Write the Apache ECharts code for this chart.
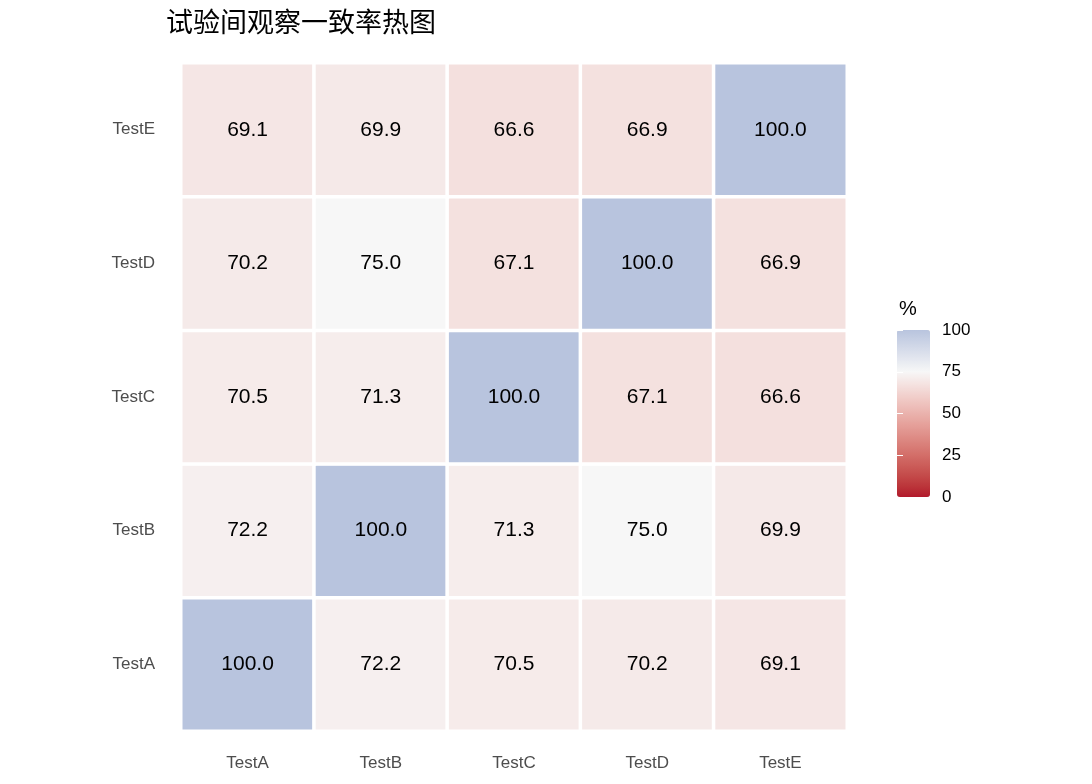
<!DOCTYPE html>
<html>
<head>
<meta charset="utf-8">
<script src="https://cdn.jsdelivr.net/npm/echarts@6/dist/echarts.min.js"></script>
<style>
html,body{margin:0;padding:0;background:#fff;}
#chart{width:1092px;height:784px;}
</style>
</head>
<body>
<div id="chart"></div>
<script>
// ---- data ----
var tests = ['TestA', 'TestB', 'TestC', 'TestD', 'TestE'];
var rowTestA = [100.0, 72.2, 70.5, 70.2, 69.1];
var rowTestB = [72.2, 100.0, 71.3, 75.0, 69.9];
var rowTestC = [70.5, 71.3, 100.0, 67.1, 66.6];
var rowTestD = [70.2, 75.0, 67.1, 100.0, 66.9];
var rowTestE = [69.1, 69.9, 66.6, 66.9, 100.0];
var legendTicks = [0, 25, 50, 75, 100];
var titleText = '试验间观察一致率热图';

var rows = [rowTestA, rowTestB, rowTestC, rowTestD, rowTestE];
var heatData = [];
rows.forEach(function (row, yi) {
  row.forEach(function (v, xi) { heatData.push([xi, yi, v]); });
});

// ---- diverging colour scale (Lab interpolation, midpoint 75) ----
function hexToRgb(h){h=h.replace('#','');return [parseInt(h.substr(0,2),16),parseInt(h.substr(2,2),16),parseInt(h.substr(4,2),16)];}
function srgbToLin(c){c/=255;return c<=0.04045?c/12.92:Math.pow((c+0.055)/1.055,2.4);}
function linToSrgb(c){c=c<=0.0031308?12.92*c:1.055*Math.pow(c,1/2.4)-0.055;return Math.max(0,Math.min(255,Math.round(c*255)));}
function rgbToLab(rgb){
  var r=srgbToLin(rgb[0]),g=srgbToLin(rgb[1]),b=srgbToLin(rgb[2]);
  var x=(r*0.4124+g*0.3576+b*0.1805)/0.95047,y=(r*0.2126+g*0.7152+b*0.0722),z=(r*0.0193+g*0.1192+b*0.9505)/1.08883;
  function f(t){return t>0.008856?Math.cbrt(t):7.787*t+16/116;}
  var fx=f(x),fy=f(y),fz=f(z);
  return [116*fy-16,500*(fx-fy),200*(fy-fz)];
}
function labToHex(lab){
  var fy=(lab[0]+16)/116,fx=fy+lab[1]/500,fz=fy-lab[2]/200;
  function fi(t){return t*t*t>0.008856?t*t*t:(t-16/116)/7.787;}
  var x=fi(fx)*0.95047,y=fi(fy),z=fi(fz)*1.08883;
  var r=x*3.2406+y*-1.5372+z*-0.4986,g=x*-0.9689+y*1.8758+z*0.0415,b=x*0.0557+y*-0.2040+z*1.0570;
  var out=[linToSrgb(r),linToSrgb(g),linToSrgb(b)];
  return '#'+out.map(function(v){return ('0'+v.toString(16)).slice(-2);}).join('');
}
var lowLab=rgbToLab(hexToRgb('#B2182B')),midLab=rgbToLab(hexToRgb('#F7F7F7')),highLab=rgbToLab(hexToRgb('#B8C4DE'));
var stops=[];
for(var i=0;i<=100;i++){
  var a,b,t;
  if(i<=75){a=lowLab;b=midLab;t=i/75;}else{a=midLab;b=highLab;t=(i-75)/25;}
  stops.push(labToHex([a[0]+(b[0]-a[0])*t,a[1]+(b[1]-a[1])*t,a[2]+(b[2]-a[2])*t]));
}

var chart = echarts.init(document.getElementById('chart'));
var sans = 'Liberation Sans, Arial, Noto Sans CJK SC, sans-serif';
chart.setOption({
  backgroundColor: '#ffffff',
  animation: false,
  title: [
    { text: titleText, left: 161, top: 3,
      textStyle: { fontFamily: 'Noto Sans CJK SC', fontSize: 27, fontWeight: 'normal', color: '#000' } },
    { text: '%', left: 894, top: 294,
      textStyle: { fontFamily: sans, fontSize: 20, fontWeight: 'normal', color: '#000' } }
  ],
  grid: [
    { left: 181, right: 245, top: 63, bottom: 53 },
    { left: 897, width: 33, top: 330, height: 167 }
  ],
  xAxis: [
    { type: 'category', data: tests, gridIndex: 0, position: 'bottom',
      axisLine: { show: false }, axisTick: { show: false }, splitLine: { show: false },
      axisLabel: { color: '#4D4D4D', fontSize: 17, fontFamily: sans, margin: 24 } },
    { type: 'value', gridIndex: 1, show: false, min: 0, max: 1 }
  ],
  yAxis: [
    { type: 'category', data: tests, gridIndex: 0,
      axisLine: { show: false }, axisTick: { show: false }, splitLine: { show: false },
      axisLabel: { color: '#4D4D4D', fontSize: 17, fontFamily: sans, margin: 26 } },
    { type: 'value', gridIndex: 1, position: 'right', min: 0, max: 100, interval: 25, z: 10,
      axisLine: { show: false }, splitLine: { show: false },
      axisTick: { show: true, inside: true, length: 6, lineStyle: { color: '#ffffff', width: 1 } },
      axisLabel: { show: true, color: '#000', fontSize: 17, fontFamily: sans, margin: 12,
        formatter: function (v) { return legendTicks.indexOf(v) >= 0 ? String(v) : ''; } } },
    { type: 'value', gridIndex: 1, position: 'left', min: 0, max: 100, interval: 25, z: 10,
      axisLine: { show: false }, splitLine: { show: false }, axisLabel: { show: false },
      axisTick: { show: true, inside: true, length: 6, lineStyle: { color: '#ffffff', width: 1 } } }
  ],
  visualMap: {
    type: 'continuous', seriesIndex: 0, min: 0, max: 100,
    orient: 'vertical', left: 897, top: 330, padding: 0,
    itemWidth: 33, itemHeight: 167, calculable: false, realtime: false,
    text: null, showLabel: false, hoverLink: false,
    inRange: { color: stops }
  },
  series: [{
    type: 'heatmap',
    xAxisIndex: 0, yAxisIndex: 0,
    data: heatData,
    itemStyle: { borderColor: '#ffffff', borderWidth: 3.5 },
    label: {
      show: true, color: '#000', fontSize: 21, fontFamily: sans,
      formatter: function (p) { return p.value[2].toFixed(1); }
    },
    emphasis: { disabled: true }
  }]
});
</script>
</body>
</html>
